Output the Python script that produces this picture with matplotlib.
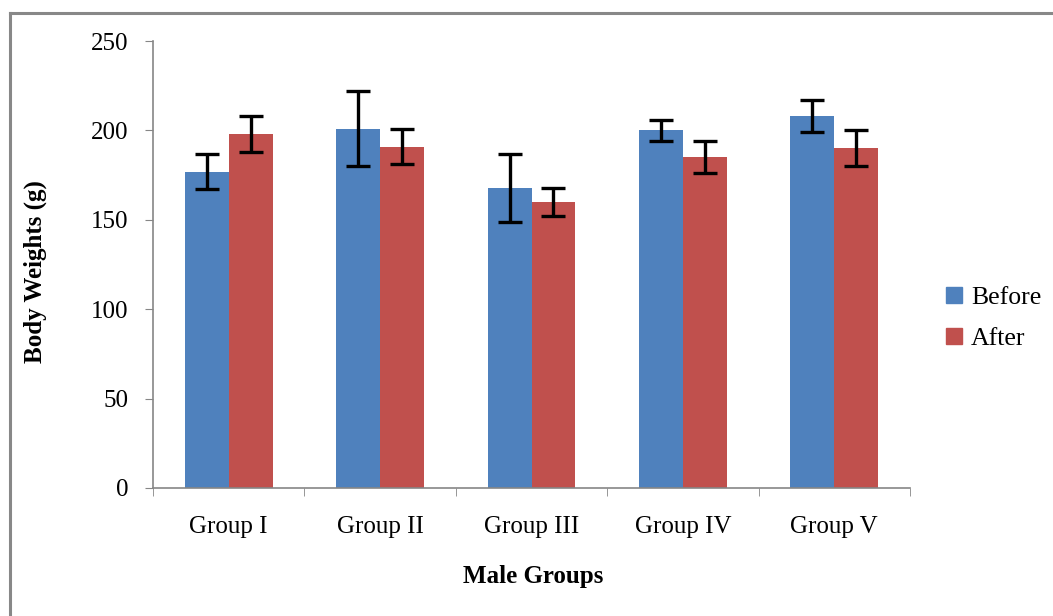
"""Body weights of male groups before and after treatment (grouped bars with SD error bars)."""

import matplotlib

matplotlib.use("Agg")
import matplotlib.pyplot as plt
import numpy as np
from matplotlib.lines import Line2D

groups = ["Group I", "Group II", "Group III", "Group IV", "Group V"]
before = [177, 201, 168, 200, 208]
before_err = [10, 21, 19, 6, 9]
after = [198, 191, 160, 185, 190]
after_err = [10, 10, 8, 9, 10]

BLUE = "#4F81BD"
RED = "#C0504D"
GREY = "#868686"

plt.rcParams["font.family"] = ["Liberation Serif", "DejaVu Serif"]

fig = plt.figure(figsize=(10.53, 6.16), dpi=100)
ax = fig.add_axes([0.1453, 0.2078, 0.7189, 0.7256])

x = np.arange(len(groups))
width = 0.29
err_kw = dict(ecolor="black", elinewidth=2.4, capsize=8.5, capthick=2.4)
ax.bar(x - width / 2, before, width, yerr=before_err, color=BLUE, error_kw=err_kw, label="Before")
ax.bar(x + width / 2, after, width, yerr=after_err, color=RED, error_kw=err_kw, label="After")

ax.set_xlim(-0.5, len(groups) - 0.5)
ax.set_ylim(0, 250)
ax.set_yticks(range(0, 251, 50))

# category labels at centres, tick marks on the group boundaries
ax.set_xticks(x)
ax.set_xticklabels(groups)
ax.set_xticks(np.arange(-0.5, len(groups)), minor=True)
ax.tick_params(axis="x", which="major", length=0, pad=20, labelsize=18)
ax.tick_params(axis="x", which="minor", length=6, color=GREY, direction="out")
ax.tick_params(axis="y", length=6, color=GREY, direction="out", pad=12, labelsize=18)

for side in ("top", "right"):
    ax.spines[side].set_visible(False)
for side in ("left", "bottom"):
    ax.spines[side].set_color(GREY)
    ax.spines[side].set_linewidth(1.2)

fig.text(35 / 1053, 1 - 272 / 616, "Body Weights (g)", rotation=90, ha="center", va="center",
         fontsize=18, fontweight="bold")
fig.text(533 / 1053, 1 - 577 / 616, "Male Groups", ha="center", va="center",
         fontsize=18, fontweight="bold")

handles = [Line2D([], [], marker="s", linestyle="none", markersize=11, color=BLUE),
           Line2D([], [], marker="s", linestyle="none", markersize=11, color=RED)]
fig.legend(handles, ["Before", "After"], loc="center left", bbox_to_anchor=(0.899, 1 - 318 / 616),
           frameon=False, fontsize=18.5, handlelength=0.6, handletextpad=0.35, labelspacing=0.7,
           borderpad=0, borderaxespad=0)

# outer chart-area frame (only the top and left edges fall inside the picture)
fig.add_artist(Line2D([9.5 / 1053, 9.5 / 1053], [0, 1 - 12.5 / 616], color="#888888", lw=2.2))
fig.add_artist(Line2D([9.5 / 1053, 1], [1 - 12.5 / 616, 1 - 12.5 / 616], color="#888888", lw=2.2))

fig.savefig("out.png", dpi=100)
